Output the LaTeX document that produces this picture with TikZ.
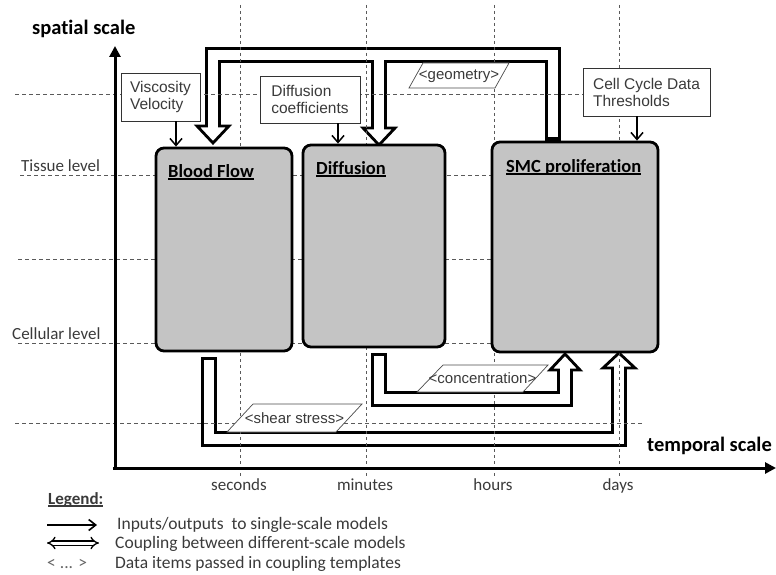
\documentclass[tikz,border=0pt]{standalone}
\usepackage{fontspec}
\setmainfont{Carlito}[Ligatures=NoCommon]
\newfontfamily\arialf{Liberation Sans}
\usetikzlibrary{arrows.meta,calc}
\definecolor{boxgray}{HTML}{C4C4C4}
\definecolor{txtgray}{HTML}{3A3A3A}
\definecolor{dashgray}{HTML}{5A5A5A}
\newcommand\thickul[1]{\setbox0=\hbox{#1}\leavevmode\rlap{\rule[-3pt]{\wd0}{1.6pt}}\box0}
\newcommand\headpath[4]{(#1-#4,#2) -- (#1,#3) -- (#1+#4,#2) -- cycle}
\pgfdeclarelayer{chan}
\pgfdeclarelayer{gridl}
\pgfsetlayers{chan,gridl,main}
\begin{document}
\begin{tikzpicture}[x=1pt,y=-1pt,
  grid/.style={dashgray, line width=0.9pt, dash pattern=on 4pt off 3pt},
  vgrid/.style={dashgray, line width=1pt, dash pattern=on 3pt off 3pt},
  model/.style={draw=black, line width=2.8pt, fill=boxgray, rounded corners=8pt, inner sep=0pt},
  inbox/.style={draw=black!80, line width=0.8pt, fill=white, inner sep=0pt, font=\arialf\fontsize{15.5}{17}\selectfont, text=txtgray, align=left},
  title/.style={font=\fontsize{18.5}{20}\selectfont\bfseries, anchor=base west, inner sep=0pt},
  axlabel/.style={font=\fontsize{20.5}{22}\selectfont\bfseries, anchor=base west, inner sep=0pt},
  lvl/.style={font=\fontsize{17}{19}\selectfont, text=txtgray, anchor=base west, inner sep=0pt},
  tick/.style={font=\fontsize{17}{19}\selectfont, text=txtgray, anchor=base, inner sep=0pt},
  chb/.style={line width=16pt, black, line cap=butt, line join=miter},
  chw/.style={line width=10pt, white, line cap=butt, line join=miter},
  headst/.style={draw=black, fill=white, line width=2.8pt, line join=miter},
  inarrow/.style={line width=1.5pt, -{Straight Barb[length=7pt,width=12pt]}},
  pg/.style={draw=black!70, line width=0.7pt, fill=white},
  dtext/.style={font=\arialf\fontsize{15}{16}\selectfont, text=txtgray, inner sep=0pt},
  legtxt/.style={font=\fontsize{17.5}{19}\selectfont, text=txtgray, anchor=base west, inner sep=0pt},
  axis/.style={line width=3pt, -{Triangle[length=11pt,width=11pt]}},
]
\useasboundingbox (0,0) rectangle (776,575);

% model boxes
\node[model, minimum width=136, minimum height=203] (bf) at (224,249.5) {};
\node[model, minimum width=142, minimum height=202] (dif) at (374,246) {};
\node[model, minimum width=166, minimum height=210] (smc) at (575,247) {};
\node[title] (bft) at (168,177) {\thickul{Blood Flow}};
\node[title] (dift) at (316,174) {\thickul{Diffusion}};
\node[title] (smct) at (506,172) {\thickul{SMC proliferation}};

% input boxes
\node[inbox, minimum width=79, minimum height=48] (vv) at (160.5,97) {Viscosity\\Velocity};
\node[inbox, minimum width=100, minimum height=47] (dc) at (310,99.5) {Diffusion\\coefficients};
\node[inbox, minimum width=127, minimum height=48] (cc) at (646.5,92) {Cell Cycle Data\\Thresholds};
\draw[inarrow] (176,0 |- vv.south) -- (176,0 |- bf.north);
\draw[inarrow] (338,0 |- dc.south) -- (338,0 |- dif.north);
\draw[inarrow] (637,0 |- cc.south) -- (637,0 |- smc.north);

% coupling channels
\begin{pgfonlayer}{chan}
  \draw[chb] (553,0 |- smc.north) -- (553,55) -- (213,55) -- (213,126);
  \draw[chb] (379,55) -- (379,128);
  \draw[chb] ($(209,0 |- bf.south)+(0,5)$) -- (209,439) -- (619,439) -- (619,368);
  \draw[chb] ($(379,0 |- dif.south)+(0,5)$) -- (379,399) -- (565,399) -- (565,370);
  \draw[headst] \headpath{213}{126}{143}{16};
  \draw[headst] \headpath{379}{128}{145}{16};
  \draw[headst] \headpath{619}{368}{353}{16};
  \draw[headst] \headpath{565}{370}{354}{15};
  \draw[chw] ($(553,0 |- smc.north)+(0,-4)$) -- (553,55) -- (213,55) -- (213,129);
  \draw[chw] (379,55) -- (379,131);
  \draw[chw] ($(209,0 |- bf.south)+(0,8)$) -- (209,439) -- (619,439) -- (619,365);
  \draw[chw] ($(379,0 |- dif.south)+(0,8)$) -- (379,399) -- (565,399) -- (565,367);
\end{pgfonlayer}

% grid
\begin{pgfonlayer}{gridl}
  \draw[grid] (15,94) -- (600,94);
  \draw[grid] (20,175) -- (492,175);
  \draw[grid] (18,259) -- (492,259);
  \draw[grid] (18,343) -- (492,343);
  \draw[grid] (15,423) -- (643,423);
  \foreach \x in {240,366,494,619} \draw[vgrid] (\x,5) -- (\x,478);
\end{pgfonlayer}

% data items
\draw[pg] (423,63) -- (509,63) -- (495,88) -- (409,88) -- cycle;
\node[dtext] (geo) at (459,76) {<geometry>};
\draw[pg] (443,365) -- (548,365) -- (523,392) -- (417,392) -- cycle;
\node[dtext] (conc) at (482.5,378.5) {<concentration>};
\draw[pg] (253,404) -- (362,404) -- (336,432) -- (227,432) -- cycle;
\node[dtext] (shear) at (294.5,418) {<shear stress>};

% axes
\coordinate (origin) at (113,468);
\coordinate (xend) at (776,468);
\coordinate (yorig) at (115,469.5);
\coordinate (yend) at (115,46);
\draw[axis] (origin) -- (xend);
\draw[axis] (yorig) -- (yend);
\node[axlabel] (sp) at (32,35) {spatial scale};
\node[axlabel] (tp) at (647,451) {temporal scale};
\node[lvl] (tl) at (21,171) {Tissue level};
\node[lvl] (cl) at (12,339) {Cellular level};
\node[tick] (ts) at (239,490) {seconds};
\node[tick] (tm) at (365,490) {minutes};
\node[tick] (th) at (493,490) {hours};
\node[tick] (td) at (618,490) {days};

% legend
\node[font=\fontsize{17}{19}\selectfont\bfseries, text=txtgray, anchor=base west, inner sep=0pt] (leg) at (48,504) {\thickul{Legend:}};
\coordinate (l1a) at (47,525);
\coordinate (l1b) at (97,525);
\coordinate (l2a) at (47,543);
\coordinate (l2b) at (99,543);
\draw[line width=1.6pt, -{Straight Barb[length=7pt,width=11pt]}] (l1a) -- (l1b);
\draw[double, double distance=3pt, line width=1.3pt, {Implies}-{Implies}] (l2a) -- (l2b);
\node[legtxt] (lt1) at (117,529) {Inputs/outputs\ \ to single-scale models};
\node[legtxt] (lt2) at (115,548) {Coupling between different-scale models};
\node[legtxt, text=black!60] (lt3a) at (47,568) {< ... >};
\node[legtxt] (lt3) at (115,568) {Data items passed in coupling templates};
\end{tikzpicture}
\end{document}
